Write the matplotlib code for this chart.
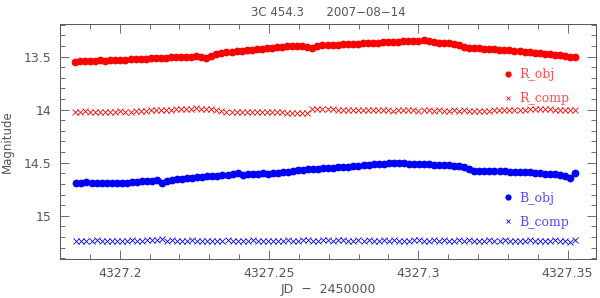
import numpy as np
import matplotlib
matplotlib.use("Agg")
import matplotlib.pyplot as plt
from matplotlib.ticker import MultipleLocator, FormatStrFormatter

# observation window (JD - 2450000), evenly sampled frames
jd_start_R, jd_end_R = 4327.185, 4327.3525
jd_start_B, jd_end_B = 4327.1855, 4327.3525

R_obj = [13.547, 13.542, 13.545, 13.540, 13.538, 13.536, 13.537, 13.533, 13.531, 13.530,
         13.528, 13.525, 13.527, 13.522, 13.520, 13.517, 13.512, 13.515, 13.510, 13.507,
         13.508, 13.505, 13.503, 13.500, 13.498, 13.505, 13.513, 13.495, 13.475, 13.468,
         13.460, 13.457, 13.450, 13.445, 13.440, 13.435, 13.430, 13.425, 13.420, 13.415,
         13.412, 13.408, 13.405, 13.400, 13.402, 13.398, 13.412, 13.415, 13.400, 13.395,
         13.392, 13.390, 13.388, 13.385, 13.382, 13.380, 13.377, 13.375, 13.372, 13.370,
         13.368, 13.366, 13.363, 13.360, 13.360, 13.357, 13.355, 13.352, 13.350, 13.348,
         13.355, 13.362, 13.368, 13.372, 13.375, 13.382, 13.395, 13.410, 13.415, 13.418,
         13.422, 13.425, 13.428, 13.432, 13.435, 13.438, 13.442, 13.445, 13.450, 13.455,
         13.458, 13.462, 13.467, 13.472, 13.478, 13.482, 13.488, 13.494, 13.500, 13.505]

R_comp = [14.018, 14.020, 14.017, 14.019, 14.021, 14.018, 14.020, 14.022, 14.019, 14.017,
          14.020, 14.018, 14.015, 14.012, 14.010, 14.006, 14.003, 14.000, 14.002, 14.000,
          13.997, 13.995, 13.992, 13.990, 13.989, 13.990, 13.993, 13.998, 14.005, 14.012,
          14.018, 14.022, 14.024, 14.025, 14.022, 14.020, 14.023, 14.021, 14.019, 14.020,
          14.022, 14.025, 14.027, 14.028, 14.030, 14.029, 14.030, 13.992, 13.990, 13.993,
          13.995, 13.998, 14.000, 13.999, 14.002, 14.000, 14.003, 14.005, 14.004, 14.006,
          14.007, 14.005, 14.008, 14.010, 14.007, 14.005, 14.008, 14.006, 14.010, 14.008,
          14.006, 14.010, 14.008, 14.012, 14.009, 14.008, 14.010, 14.007, 14.011, 14.009,
          14.012, 14.010, 14.009, 14.006, 14.005, 14.003, 14.005, 14.002, 14.004, 14.001,
          13.998, 13.995, 13.993, 13.997, 13.995, 14.000, 14.003, 14.005, 14.002, 14.006]

B_obj = [14.688, 14.690, 14.686, 14.692, 14.689, 14.691, 14.694, 14.690, 14.688, 14.692,
         14.687, 14.685, 14.680, 14.676, 14.672, 14.668, 14.663, 14.690, 14.668, 14.662,
         14.655, 14.650, 14.645, 14.640, 14.636, 14.632, 14.628, 14.626, 14.622, 14.618,
         14.612, 14.605, 14.598, 14.612, 14.608, 14.604, 14.606, 14.600, 14.602, 14.598,
         14.594, 14.588, 14.583, 14.578, 14.572, 14.565, 14.562, 14.560, 14.556, 14.552,
         14.548, 14.546, 14.544, 14.540, 14.536, 14.532, 14.528, 14.524, 14.520, 14.516,
         14.512, 14.508, 14.506, 14.504, 14.500, 14.504, 14.508, 14.510, 14.512, 14.514,
         14.516, 14.518, 14.520, 14.522, 14.525, 14.530, 14.535, 14.540, 14.560, 14.575,
         14.578, 14.580, 14.576, 14.578, 14.582, 14.580, 14.584, 14.586, 14.588, 14.590,
         14.592, 14.594, 14.598, 14.604, 14.610, 14.606, 14.612, 14.625, 14.640, 14.600]

B_comp = [15.236, 15.234, 15.238, 15.235, 15.232, 15.236, 15.234, 15.237, 15.233, 15.235,
          15.234, 15.231, 15.236, 15.233, 15.230, 15.228, 15.232, 15.218, 15.234, 15.231,
          15.233, 15.236, 15.234, 15.232, 15.235, 15.237, 15.234, 15.233, 15.236, 15.234,
          15.232, 15.235, 15.233, 15.236, 15.234, 15.232, 15.235, 15.237, 15.233, 15.235,
          15.236, 15.234, 15.231, 15.233, 15.235, 15.232, 15.230, 15.233, 15.235, 15.232,
          15.231, 15.234, 15.232, 15.230, 15.233, 15.235, 15.232, 15.234, 15.231, 15.233,
          15.235, 15.232, 15.234, 15.231, 15.233, 15.236, 15.233, 15.230, 15.232, 15.234,
          15.233, 15.231, 15.234, 15.232, 15.235, 15.233, 15.230, 15.234, 15.232, 15.235,
          15.233, 15.236, 15.231, 15.234, 15.237, 15.232, 15.235, 15.238, 15.233, 15.236,
          15.232, 15.238, 15.234, 15.240, 15.236, 15.231, 15.242, 15.236, 15.248, 15.226]

jd_R = np.linspace(jd_start_R, jd_end_R, len(R_obj))
jd_B = np.linspace(jd_start_B, jd_end_B, len(B_obj))

grey = "#555555"
plt.rcParams["font.family"] = "DejaVu Sans"

fig = plt.figure(figsize=(6.0, 2.98), dpi=100)
ax = fig.add_axes([0.1, 0.1309, 0.8933, 0.7886])

ax.plot(jd_R, R_obj, "o", color="#ff0000", ms=5.6, mew=0, label="R_obj")
ax.plot(jd_R, R_comp, "x", color="#ff0000", ms=4.0, mew=0.6, label="R_comp")
ax.plot(jd_B, B_obj, "o", color="#0000ff", ms=5.6, mew=0, label="B_obj")
ax.plot(jd_B, B_comp, "x", color="#0000ff", ms=4.0, mew=0.6, label="B_comp")

ax.set_xlim(4327.180, 4327.3595)
ax.set_ylim(15.407, 13.193)

ax.xaxis.set_major_locator(MultipleLocator(0.05))
ax.xaxis.set_minor_locator(MultipleLocator(0.01))
ax.xaxis.set_major_formatter(FormatStrFormatter("%g"))
ax.yaxis.set_major_locator(MultipleLocator(0.5))
ax.yaxis.set_minor_locator(MultipleLocator(0.1))
ax.yaxis.set_major_formatter(FormatStrFormatter("%g"))

ax.tick_params(which="both", direction="in", top=True, right=True,
               colors=grey, labelsize=9, width=0.6)
ax.tick_params(which="major", length=6.5, pad=6)
ax.tick_params(which="minor", length=3.5)
for sp in ax.spines.values():
    sp.set_color(grey)
    sp.set_linewidth(0.7)

ax.set_xlabel("JD  \u2212  2450000", color=grey, fontsize=9, labelpad=2)
ax.set_ylabel("Magnitude", color=grey, fontsize=8.5, labelpad=7)
ax.set_title("3C 454.3      2007\u221208\u221214", color=grey, fontsize=8.5, pad=6)

h, l = ax.get_legend_handles_labels()
legR = ax.legend(h[:2], l[:2], loc="upper left", bbox_to_anchor=(0.805, 0.86),
                 frameon=False, numpoints=1, handlelength=0.8, handletextpad=0.5,
                 labelspacing=0.9, prop={"family": "DejaVu Serif", "size": 9},
                 labelcolor="#ff4d4d", markerscale=0.8)
ax.add_artist(legR)
ax.legend(h[2:], l[2:], loc="upper left", bbox_to_anchor=(0.805, 0.335),
          frameon=False, numpoints=1, handlelength=0.8, handletextpad=0.5,
          labelspacing=0.9, prop={"family": "DejaVu Serif", "size": 9},
          labelcolor="#4d4dff", markerscale=0.8)

fig.savefig("out.png", dpi=100)
